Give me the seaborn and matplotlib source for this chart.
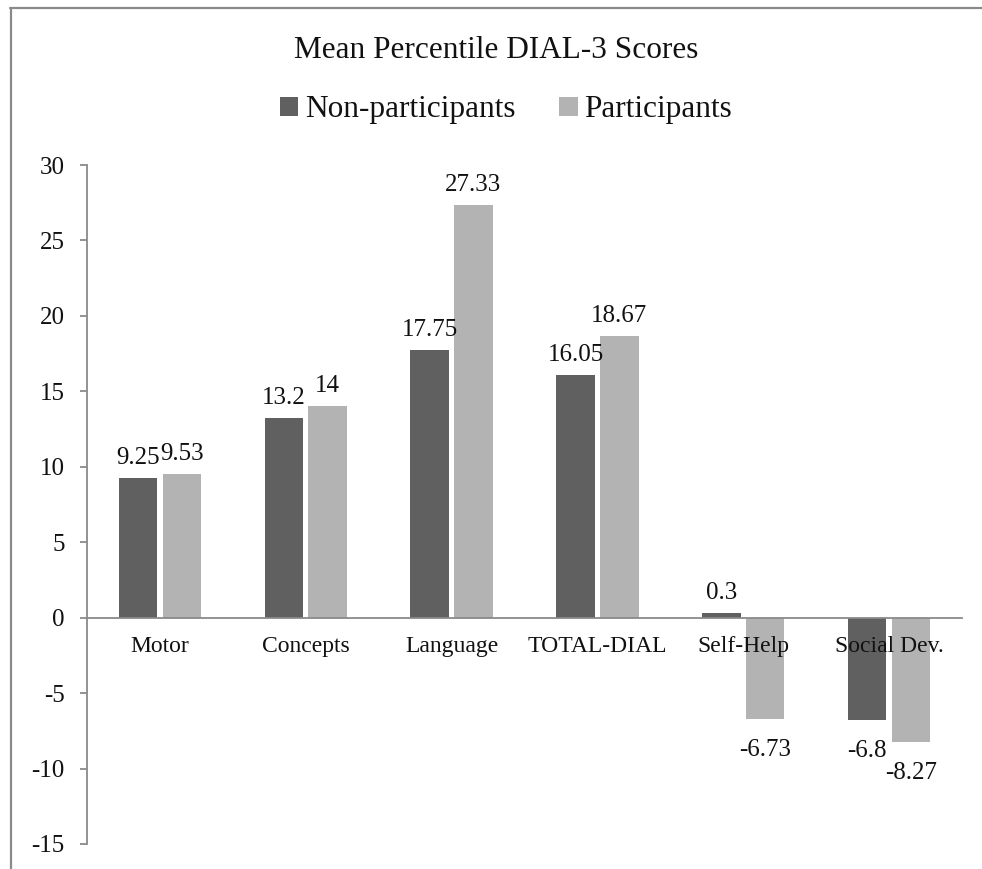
import matplotlib
matplotlib.use("Agg")
import matplotlib.pyplot as plt
from matplotlib.patches import Patch
from matplotlib.lines import Line2D
import seaborn as sns
import pandas as pd

# Mean percentile change per DIAL-3 domain
categories = ["Motor", "Concepts", "Language", "TOTAL-DIAL", "Self-Help", "Social Dev."]
groups = ["Non-participants", "Participants"]
non_participants = [9.25, 13.2, 17.75, 16.05, 0.3, -6.8]
participants = [9.53, 14, 27.33, 18.67, -6.73, -8.27]
y_ticks = [-15, -10, -5, 0, 5, 10, 15, 20, 25, 30]

colors = {"Non-participants": "#606060", "Participants": "#b3b3b3"}
axis_grey = "#8a8a8a"

df = pd.DataFrame({
    "category": categories * 2,
    "group": [groups[0]] * len(categories) + [groups[1]] * len(categories),
    "value": non_participants + participants,
})

sns.set_theme(style="white")
plt.rcParams["font.family"] = ["Liberation Serif", "DejaVu Serif"]

fig = plt.figure(figsize=(9.82, 8.69), dpi=100)
ax = fig.add_axes([87 / 982, 1 - 844 / 869, (962 - 87) / 982, (844 - 165) / 869])

sns.barplot(data=df, x="category", y="value", hue="group", order=categories,
            hue_order=groups, palette=colors, width=0.6, gap=0.12,
            errorbar=None, linewidth=0, legend=False, ax=ax)

ax.set_xlim(-0.5, len(categories) - 0.5)
ax.set_ylim(-15, 30)
ax.set_yticks(y_ticks)
ax.set_yticklabels([f"{t}" for t in y_ticks])
ax.set_xlabel("")
ax.set_ylabel("")
# category names are drawn over the bars
ax.set_axisbelow(False)

# value labels above positive bars, below negative ones
for container in ax.containers:
    for bar in container:
        h = bar.get_height()
        xc = bar.get_x() + bar.get_width() / 2
        if h >= 0:
            ax.annotate(f"{h:g}", (xc, h), xytext=(0, 6.5), textcoords="offset points",
                        ha="center", va="bottom", fontsize=18, color="#111111")
        else:
            ax.annotate(f"{h:g}", (xc, h), xytext=(0, -14), textcoords="offset points",
                        ha="center", va="top", fontsize=18, color="#111111")

# axes: category axis sits on the zero line
for side in ["top", "right"]:
    ax.spines[side].set_visible(False)
ax.spines["bottom"].set_position(("data", 0))
for side in ["left", "bottom"]:
    ax.spines[side].set_color(axis_grey)
    ax.spines[side].set_linewidth(1.3)
ax.tick_params(axis="y", which="major", direction="out", length=5, width=1.3,
               color=axis_grey, pad=11, labelsize=18, labelcolor="#111111", left=True)
ax.tick_params(axis="x", length=0, pad=13, labelsize=17, labelcolor="#111111")

fig.text(0.505, 1 - 50 / 869, "Mean Percentile DIAL-3 Scores", ha="center", va="center",
         fontsize=22.5, color="#111111")

handles = [Patch(facecolor=colors[g], edgecolor="none", label=g) for g in groups]
fig.legend(handles=handles, loc="center", bbox_to_anchor=(0.515, 1 - 110 / 869), ncol=2,
           frameon=False, fontsize=22.5, handlelength=0.6, handleheight=0.6,
           handletextpad=0.2, columnspacing=1.4, labelcolor="#111111")

# outer chart border (top and left edges)
fig.add_artist(Line2D([10 / 982, 1.0], [1 - 8 / 869, 1 - 8 / 869], transform=fig.transFigure,
                      color=axis_grey, linewidth=1.6))
fig.add_artist(Line2D([11 / 982, 11 / 982], [0.0, 1 - 8 / 869], transform=fig.transFigure,
                      color=axis_grey, linewidth=1.6))

fig.savefig("out.png", dpi=100)
